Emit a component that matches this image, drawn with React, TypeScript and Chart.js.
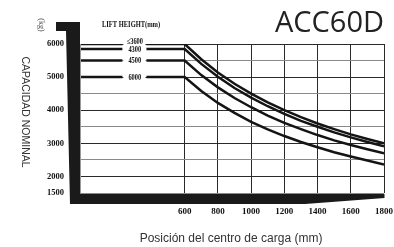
import React, { useEffect, useRef } from "react";
import { Chart, registerables } from "chart.js";

Chart.register(...registerables);

const loadCenters = [600, 700, 800, 900, 1000, 1100, 1200, 1300, 1400, 1500, 1600, 1700, 1800];
const cap3600 = [6000, 5540, 5140, 4800, 4500, 4235, 4000, 3790, 3600, 3430, 3270, 3130, 3000];
const cap4300 = [5850, 5400, 5010, 4670, 4380, 4120, 3890, 3680, 3500, 3330, 3180, 3040, 2910];
const cap4500 = [5500, 5060, 4690, 4370, 4090, 3840, 3620, 3430, 3250, 3090, 2950, 2820, 2700];
const cap6000 = [5000, 4580, 4220, 3920, 3650, 3420, 3220, 3040, 2880, 2730, 2600, 2480, 2360];
const liftHeights = ["≤3600", "4300", "4500", "6000"];
const xTicks = [600, 800, 1000, 1200, 1400, 1600, 1800];
const yLabelValues = [6000, 5000, 4000, 3000, 2000, 1500];
const X_MIN = -30;
const GAP_FROM = 225;
const GAP_TO = 370;
const LABEL_X = 300;

const series = [cap3600, cap4300, cap4500, cap6000];

function buildData(c: number[]) {
  return [
    { x: X_MIN, y: c[0] },
    { x: GAP_FROM, y: c[0] },
    { x: LABEL_X, y: null },
    { x: GAP_TO, y: c[0] },
    ...loadCenters.map((x, i) => ({ x, y: c[i] })),
  ];
}

const decorPlugin = {
  id: "decor",
  afterDatasetsDraw(chart: any) {
    const ctx = chart.ctx;
    const xs = chart.scales.x;
    const ys = chart.scales.y;
    const cx = xs.getPixelForValue(LABEL_X);
    const offsets = [-2.5, 0.5, 0, 0];
    ctx.save();
    series.forEach((s, i) => {
      const y = ys.getPixelForValue(s[0]) + offsets[i];
      ctx.fillStyle = "#ffffff";
      ctx.fillRect(xs.getPixelForValue(GAP_FROM) + 1, y - 3.5, xs.getPixelForValue(GAP_TO) - xs.getPixelForValue(GAP_FROM) - 2, 7);
    });
    series.forEach((s, i) => {
      const y = ys.getPixelForValue(s[0]) + offsets[i];
      ctx.save();
      ctx.translate(cx, y);
      ctx.scale(0.8, 1);
      ctx.fillStyle = "#111";
      ctx.font = "bold 8px 'Liberation Serif'";
      ctx.textAlign = "center";
      ctx.textBaseline = "middle";
      ctx.fillText(liftHeights[i], 0, 0.5);
      ctx.restore();
    });
    ctx.restore();
  },
  afterDraw(chart: any) {
    const ctx = chart.ctx;
    const area = chart.chartArea;
    ctx.save();
    ctx.fillStyle = "#1a1a1a";
    ctx.beginPath();
    ctx.moveTo(56, 22);
    ctx.lineTo(area.left, 22);
    ctx.lineTo(area.left, area.bottom + 11);
    ctx.lineTo(70, area.bottom + 11);
    ctx.lineTo(66, 31);
    ctx.lineTo(56, 31);
    ctx.closePath();
    ctx.fill();
    ctx.beginPath();
    ctx.moveTo(70, area.bottom + 1);
    ctx.lineTo(area.right + 0.5, area.bottom + 1);
    ctx.lineTo(area.right + 0.5, area.bottom + 5);
    ctx.lineTo(305, area.bottom + 11);
    ctx.lineTo(70, area.bottom + 11);
    ctx.closePath();
    ctx.fill();
    ctx.strokeStyle = "#999";
    ctx.lineWidth = 1;
    ctx.beginPath();
    ctx.moveTo(area.left + 0.5, area.top);
    ctx.lineTo(area.left + 0.5, area.bottom);
    ctx.stroke();

    ctx.save();
    ctx.translate(41, 25);
    ctx.rotate(Math.PI / 2);
    ctx.fillStyle = "#444";
    ctx.font = "8px 'Liberation Serif'";
    ctx.textAlign = "center";
    ctx.textBaseline = "middle";
    ctx.fillText("(kg)", 0, 0);
    ctx.restore();

    ctx.save();
    ctx.translate(25, 112);
    ctx.rotate(Math.PI / 2);
    ctx.fillStyle = "#333";
    ctx.font = "10.5px 'Liberation Sans'";
    ctx.textAlign = "center";
    ctx.textBaseline = "middle";
    ctx.fillText("CAPACIDAD NOMINAL", 0, 0);
    ctx.restore();

    ctx.save();
    ctx.translate(102, 25);
    ctx.scale(0.72, 1);
    ctx.fillStyle = "#111";
    ctx.font = "bold 9px 'Liberation Serif'";
    ctx.textAlign = "left";
    ctx.textBaseline = "middle";
    ctx.fillText("LIFT HEIGHT(mm)", 0, 0);
    ctx.restore();

    ctx.fillStyle = "#222";
    ctx.font = "29px 'Open Sans'";
    ctx.textAlign = "right";
    ctx.textBaseline = "alphabetic";
    ctx.fillText("ACC60D", 384, 32);

    ctx.fillStyle = "#333";
    ctx.font = "12px 'Liberation Sans'";
    ctx.textAlign = "center";
    ctx.fillText("Posición del centro de carga (mm)", 231, 242);
    ctx.restore();
  },
};

export default function App() {
  const ref = useRef<HTMLCanvasElement | null>(null);
  useEffect(() => {
    if (!ref.current) return;
    const chart = new Chart(ref.current, {
      type: "line",
      data: {
        datasets: series.map((s, i) => ({
          label: liftHeights[i],
          data: buildData(s) as any,
          borderColor: "#141414",
          borderWidth: 2.5,
          pointRadius: 0,
          tension: 0,
          spanGaps: false,
          fill: false,
        })),
      },
      options: {
        responsive: false,
        animation: false,
        layout: { padding: { top: 44, right: 10, bottom: 0, left: 0 } },
        plugins: { legend: { display: false }, tooltip: { enabled: false } },
        scales: {
          x: {
            type: "linear",
            min: X_MIN,
            max: 1800,
            afterBuildTicks: (s: any) => {
              s.ticks = xTicks.map((v) => ({ value: v }));
            },
            afterFit: (s: any) => {
              s.height = 54;
              s.paddingLeft = 0;
              s.paddingRight = 0;
            },
            ticks: {
              autoSkip: false,
              maxRotation: 0,
              padding: 13,
              color: "#111",
              font: { family: "'Liberation Serif'", size: 9, weight: "bold" },
              callback: (v: any) => String(v),
            },
            grid: { color: "#2a2a2a", lineWidth: 1, drawTicks: false },
            border: { display: false },
          },
          y: {
            type: "linear",
            min: 1500,
            max: 6000,
            afterFit: (s: any) => {
              s.width = 80;
              s.paddingTop = 0;
              s.paddingBottom = 0;
            },
            ticks: {
              stepSize: 500,
              autoSkip: false,
              padding: 16,
              color: "#111",
              font: { family: "'Liberation Serif'", size: 8.5, weight: "bold" },
              callback: (v: any) => (yLabelValues.includes(Number(v)) ? String(v) : ""),
            },
            grid: {
              color: (c: any) => (c.tick && c.tick.value % 1000 === 0 ? "#2a2a2a" : "#8a8a8a"),
              lineWidth: 1,
              drawTicks: false,
            },
            border: { display: false },
          },
        },
      },
      plugins: [decorPlugin],
    });
    return () => chart.destroy();
  }, []);
  return (
    <div style={{ position: "fixed", left: 0, top: 0, width: 394, height: 247, background: "#fff" }}>
      <canvas ref={ref} width={394} height={247} style={{ display: "block", width: 394, height: 247 }} />
    </div>
  );
}
